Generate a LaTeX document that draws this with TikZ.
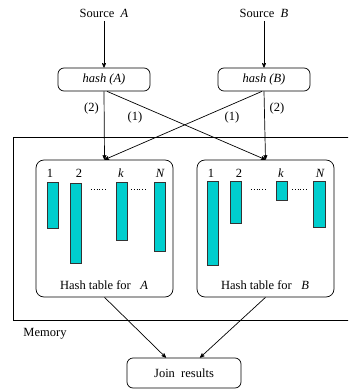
\documentclass[tikz,border=0pt]{standalone}
\usepackage{fontspec}
\setmainfont{Liberation Serif}
\usepackage{tikz}
\usetikzlibrary{arrows}
\usetikzlibrary{positioning}
\definecolor{bucket}{RGB}{0,206,206}

\begin{document}
\begin{tikzpicture}[x=1pt,y=-1pt,>=stealth',line width=0.7pt,
		font=\fontsize{12.5}{14}\selectfont,
		proc/.style={rectangle,draw=black,rounded corners=6pt,minimum width=92pt,minimum height=23pt,inner sep=0pt},
		table/.style={rectangle,draw=black,rounded corners=8pt,minimum width=137pt,minimum height=137pt,inner sep=0pt},
		bar/.style={draw=black!80,fill=bucket,line width=0.6pt},
		idx/.style={inner sep=0pt,font=\fontsize{12.5}{14}\selectfont\itshape},
		lbl/.style={inner sep=1pt}]
		\clip (0,0) rectangle (348,390);
		
		% memory region
		\draw (13,137) rectangle (360,320);
		\node (mem) at (45,334) {Memory};
		
		% sources and hashing
		\node (srcA) at (104,13) {Source \ \textit{A}};
		\node (srcB) at (264,13) {Source \ \textit{B}};
		\node[proc] (hashA) at (104,79.5) {\textit{hash (A)}};
		\node[proc] (hashB) at (264,79.5) {\textit{hash (B)}};
		
		% hash tables
		\node[table] (tabA) at (104.5,228.5) {};
		\node[table] (tabB) at (265.5,228.5) {};
		\node (labA) at (104,285) {Hash table for \ \ \textit{A}};
		\node (labB) at (265,285) {Hash table for \ \ \textit{B}};
		
		% buckets
		\foreach \xa/\ya/\xb/\yb in {47/182/58/228, 70/183/81/263, 116/182/127/240, 154/182/165/251,
				207/181/218/265, 230/181/241/223, 276/181/287/200, 313/181/325/227}
			\draw[bar] (\xa,\ya) rectangle (\xb,\yb);
		\foreach \xa/\xb in {91/107, 131/147, 251/267, 292/308}
			\draw[dotted,line width=0.8pt] (\xa,189.5) -- (\xb,189.5);
		\node[idx] (a1) at (50,173) {\upshape 1};
		\node[idx] (a2) at (79,173) {\upshape 2};
		\node[idx] (ak) at (121,173) {k};
		\node[idx] (aN) at (160,173) {N};
		\node[idx] (b1) at (211,173) {\upshape 1};
		\node[idx] (b2) at (239,173) {\upshape 2};
		\node[idx] (bk) at (281,173) {k};
		\node[idx] (bN) at (320,173) {N};
		
		% result
		\node[proc,minimum width=114pt,minimum height=30pt] (join) at (184,373) {Join \ results};
		
		\path[->]
		(srcA) edge (hashA)
		(srcB) edge (hashB)
		(hashA.south) edge node[lbl,left=4pt,pos=0.25] {(2)} (tabA.north)
		(hashB.south) edge node[lbl,right=4pt,pos=0.25] {(2)} (tabB.north)
		([xshift=3pt]hashA.south) edge (tabB.north)
		([xshift=-2pt]hashB.south) edge (tabA.north)
		(tabA.south) edge ([xshift=-18pt]join.north)
		(tabB.south) edge ([xshift=16pt]join.north);
		\node[lbl] (c1) at (135,117) {(1)};
		\node[lbl] (c2) at (232,117) {(1)};
		\end{tikzpicture}
\end{document}
